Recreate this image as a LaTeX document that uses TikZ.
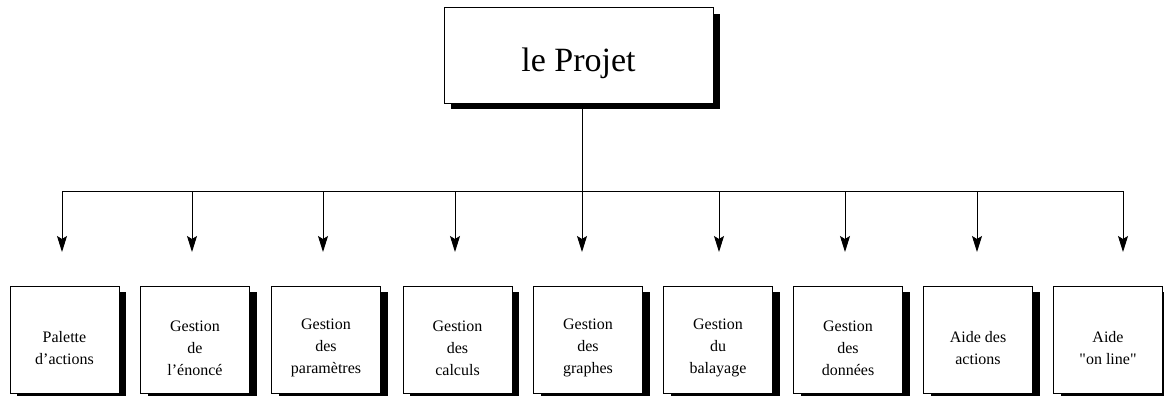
\documentclass[tikz,border=0pt]{standalone}
\usepackage{fontspec}
\setmainfont{Liberation Serif}
\usetikzlibrary{arrows.meta,shadows}
\begin{document}
\begin{tikzpicture}[x=1pt,y=-1pt,
  boxshadow/.style={draw=black, line width=1pt, fill=white,
    drop shadow={shadow xshift=7pt, shadow yshift=-6pt, fill=black, opacity=1}},
  leaf/.style={boxshadow, minimum width=109pt, minimum height=107pt, inner sep=0pt},
  leaftext/.style={align=center, font=\fontsize{16}{22}\selectfont, inner sep=0pt},
  conn/.style={line width=0.9pt},
  arr/.style={conn, -{Stealth[length=16pt,width=10pt,inset=3pt]}}]
\useasboundingbox (0,0) rectangle (1164,396);
% top box
\node[boxshadow, minimum width=269pt, minimum height=95pt, inner sep=0pt] (top) at (578.5,55.5) {};
\node[font=\fontsize{34}{40}\selectfont, inner sep=0pt] (toptext) at (578.5,63) {le Projet};
% leaf boxes
\foreach \i/\cx/\txt in {1/64.5/{Palette\\d'actions},
                         2/195/{Gestion\\de\\l'énoncé},
                         3/326/{Gestion\\des\\paramètres},
                         4/457.5/{Gestion\\des\\calculs},
                         5/588/{Gestion\\des\\graphes},
                         6/718/{Gestion\\du\\balayage},
                         7/848/{Gestion\\des\\données},
                         8/978/{Aide des\\actions},
                         9/1108/{Aide\\\textquotedbl on line\textquotedbl}}{
  \node[leaf] (b\i) at (\cx,339.5) {};
  \node[leaftext] (t\i) at (\cx,348) {\txt};
}
% arrow tips
\foreach \i/\ax in {1/62,2/192,3/323,4/455,5/582,6/719,7/845,8/977,9/1123}{
  \coordinate (a\i) at (\ax,252);
}
\coordinate (j) at (582,191);
\draw[conn] (top.south -| j) -- (j);
\draw[conn] (a1 |- j) -- (a9 |- j);
\foreach \i in {1,...,9}{
  \draw[arr] (a\i |- j) -- (a\i);
}
\end{tikzpicture}
\end{document}
